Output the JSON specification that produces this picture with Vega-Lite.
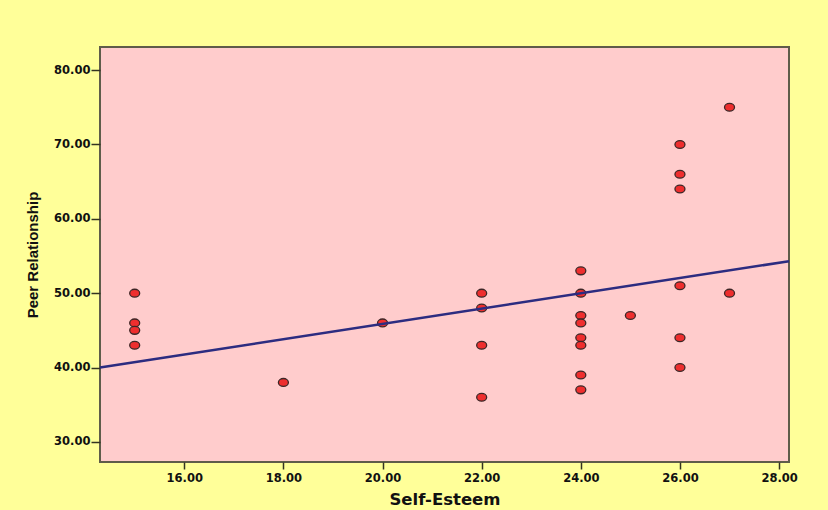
{
  "$schema": "https://vega.github.io/schema/vega-lite/v6.json",
  "width": 689,
  "height": 415,
  "autosize": {"type": "none"},
  "padding": {"left": 100, "top": 47, "right": 39, "bottom": 48},
  "background": "#FFFF99",
  "config": {
    "view": {"fill": "#FFCCCC", "stroke": "#5f5c4a", "strokeWidth": 2},
    "axis": {
      "grid": false,
      "domain": false,
      "tickColor": "#333322",
      "tickWidth": 1.5,
      "labelFont": "DejaVu Sans",
      "labelFontWeight": "bold",
      "labelFontSize": 11.5,
      "labelColor": "#111111",
      "titleColor": "#111111"
    }
  },
  "datasets": {
    "points": [
      {"selfEsteem": 15, "peer": 50},
      {"selfEsteem": 15, "peer": 46},
      {"selfEsteem": 15, "peer": 45},
      {"selfEsteem": 15, "peer": 43},
      {"selfEsteem": 18, "peer": 38},
      {"selfEsteem": 20, "peer": 46},
      {"selfEsteem": 22, "peer": 50},
      {"selfEsteem": 22, "peer": 48},
      {"selfEsteem": 22, "peer": 43},
      {"selfEsteem": 22, "peer": 36},
      {"selfEsteem": 24, "peer": 53},
      {"selfEsteem": 24, "peer": 50},
      {"selfEsteem": 24, "peer": 47},
      {"selfEsteem": 24, "peer": 46},
      {"selfEsteem": 24, "peer": 44},
      {"selfEsteem": 24, "peer": 43},
      {"selfEsteem": 24, "peer": 39},
      {"selfEsteem": 24, "peer": 37},
      {"selfEsteem": 25, "peer": 47},
      {"selfEsteem": 26, "peer": 70},
      {"selfEsteem": 26, "peer": 66},
      {"selfEsteem": 26, "peer": 64},
      {"selfEsteem": 26, "peer": 51},
      {"selfEsteem": 26, "peer": 44},
      {"selfEsteem": 26, "peer": 40},
      {"selfEsteem": 27, "peer": 75},
      {"selfEsteem": 27, "peer": 50}
    ],
    "fit": [
      {"selfEsteem": 14.3, "peer": 40.0},
      {"selfEsteem": 28.2, "peer": 54.3}
    ]
  },
  "layer": [
    {
      "data": {"name": "points"},
      "mark": {"type": "point", "shape": "M-1,0A1,0.78,0,1,0,1,0A1,0.78,0,1,0,-1,0Z", "filled": true, "size": 100, "fill": "#EE2E2E", "stroke": "#3d2626", "strokeWidth": 1.3, "opacity": 1},
      "encoding": {
        "x": {
          "field": "selfEsteem", "type": "quantitative",
          "scale": {"domain": [14.3, 28.2], "nice": false, "zero": false},
          "axis": {
            "title": "Self-Esteem",
            "values": [16, 18, 20, 22, 24, 26, 28],
            "format": ".2f",
            "tickSize": 7,
            "labelPadding": 3,
            "titleFont": "DejaVu Sans",
            "titleFontWeight": "bold",
            "titleFontSize": 16.5,
            "titlePadding": 8
          }
        },
        "y": {
          "field": "peer", "type": "quantitative",
          "scale": {"domain": [27.3, 83.1], "nice": false, "zero": false},
          "axis": {
            "title": "Peer Relationship",
            "values": [30, 40, 50, 60, 70, 80],
            "format": ".2f",
            "tickSize": 9,
            "labelPadding": 1,
            "titleFont": "Liberation Sans",
            "titleFontWeight": "bold",
            "titleFontSize": 15,
            "titlePadding": 13
          }
        }
      }
    },
    {
      "data": {"name": "fit"},
      "mark": {"type": "line", "color": "#2c2c80", "strokeWidth": 2.5},
      "encoding": {
        "x": {"field": "selfEsteem", "type": "quantitative"},
        "y": {"field": "peer", "type": "quantitative"}
      }
    }
  ]
}
